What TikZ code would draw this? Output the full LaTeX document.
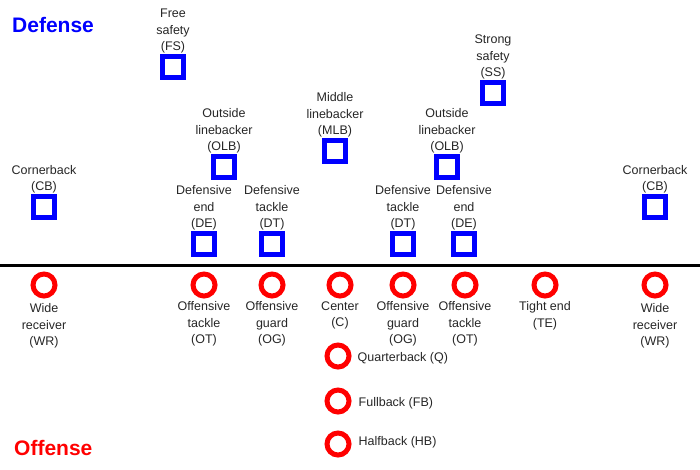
\documentclass[tikz,border=0pt]{standalone}
\usepackage{fontspec}
\setmainfont{Liberation Sans}
\begin{document}
\begin{tikzpicture}[x=1pt,y=-1pt,
  def/.style={draw=blue,line width=5pt,minimum size=21pt,inner sep=0pt,shape=rectangle},
  off/.style={draw=red,line width=5pt,minimum size=22pt,inner sep=0pt,shape=circle},
  lab/.style={font=\fontsize{12.5}{16.5}\selectfont,align=center,inner sep=1pt,text=black!85},
  above lab/.style={lab,anchor=south,yshift=-0.5pt},
  below lab/.style={lab,anchor=north,yshift=-2pt},
  side lab/.style={lab,anchor=west,xshift=5pt,yshift=-2pt}]
\useasboundingbox (0,0) rectangle (700,469);
% titles
\node[font=\fontsize{21}{24}\selectfont\bfseries,text=blue,anchor=west,inner sep=0pt] (deftitle) at (12,25) {Defense};
\node[font=\fontsize{21}{24}\selectfont\bfseries,text=red,anchor=west,inner sep=0pt] (offtitle) at (14,448) {Offense};
% line of scrimmage
\coordinate (lsL) at (0,265);
\coordinate (lsR) at (700,265);
\draw[line width=3pt] (lsL) -- (lsR);
% defense
\node[def] (fs) at (173,67) {};
\node[def] (ss) at (493,93) {};
\node[def] (olbL) at (224,167) {};
\node[def] (mlb) at (335,151) {};
\node[def] (olbR) at (447,167) {};
\node[def] (cbL) at (44,207) {};
\node[def] (cbR) at (655,207) {};
\node[def] (deL) at (204,244) {};
\node[def] (dtL) at (272,244) {};
\node[def] (dtR) at (403,244) {};
\node[def] (deR) at (464,244) {};
\node[above lab] (fsl) at (fs.north) {Free\\safety\\(FS)};
\node[above lab] (ssl) at (ss.north) {Strong\\safety\\(SS)};
\node[above lab] (olbLl) at (olbL.north) {Outside\\linebacker\\(OLB)};
\node[above lab] (mlbl) at (mlb.north) {Middle\\linebacker\\(MLB)};
\node[above lab] (olbRl) at (olbR.north) {Outside\\linebacker\\(OLB)};
\node[above lab] (cbLl) at (cbL.north) {Cornerback\\(CB)};
\node[above lab] (cbRl) at (cbR.north) {Cornerback\\(CB)};
\node[above lab] (deLl) at (deL.north) {Defensive\\end\\(DE)};
\node[above lab] (dtLl) at (dtL.north) {Defensive\\tackle\\(DT)};
\node[above lab] (dtRl) at (dtR.north) {Defensive\\tackle\\(DT)};
\node[above lab] (deRl) at (deR.north) {Defensive\\end\\(DE)};
% offense
\node[off] (wrL) at (44,285) {};
\node[off] (otL) at (204,285) {};
\node[off] (ogL) at (272,285) {};
\node[off] (c) at (340,285) {};
\node[off] (ogR) at (403,285) {};
\node[off] (otR) at (465,285) {};
\node[off] (te) at (545,285) {};
\node[off] (wrR) at (655,285) {};
\node[off] (q) at (338,356) {};
\node[off] (fb) at (338,401) {};
\node[off] (hb) at (338,444) {};
\node[below lab,yshift=-2pt] (wrLl) at (wrL.south) {Wide\\receiver\\(WR)};
\node[below lab] (otLl) at (otL.south) {Offensive\\tackle\\(OT)};
\node[below lab] (ogLl) at (ogL.south) {Offensive\\guard\\(OG)};
\node[below lab] (cl) at (c.south) {Center\\(C)};
\node[below lab] (ogRl) at (ogR.south) {Offensive\\guard\\(OG)};
\node[below lab] (otRl) at (otR.south) {Offensive\\tackle\\(OT)};
\node[below lab] (tel) at (te.south) {Tight end\\(TE)};
\node[below lab,yshift=-2pt] (wrRl) at (wrR.south) {Wide\\receiver\\(WR)};
\node[side lab] (ql) at (q.east) {Quarterback (Q)};
\node[side lab,xshift=1pt] (fbl) at (fb.east) {Fullback (FB)};
\node[side lab,xshift=1pt,yshift=4pt] (hbl) at (hb.east) {Halfback (HB)};
\end{tikzpicture}
\end{document}
